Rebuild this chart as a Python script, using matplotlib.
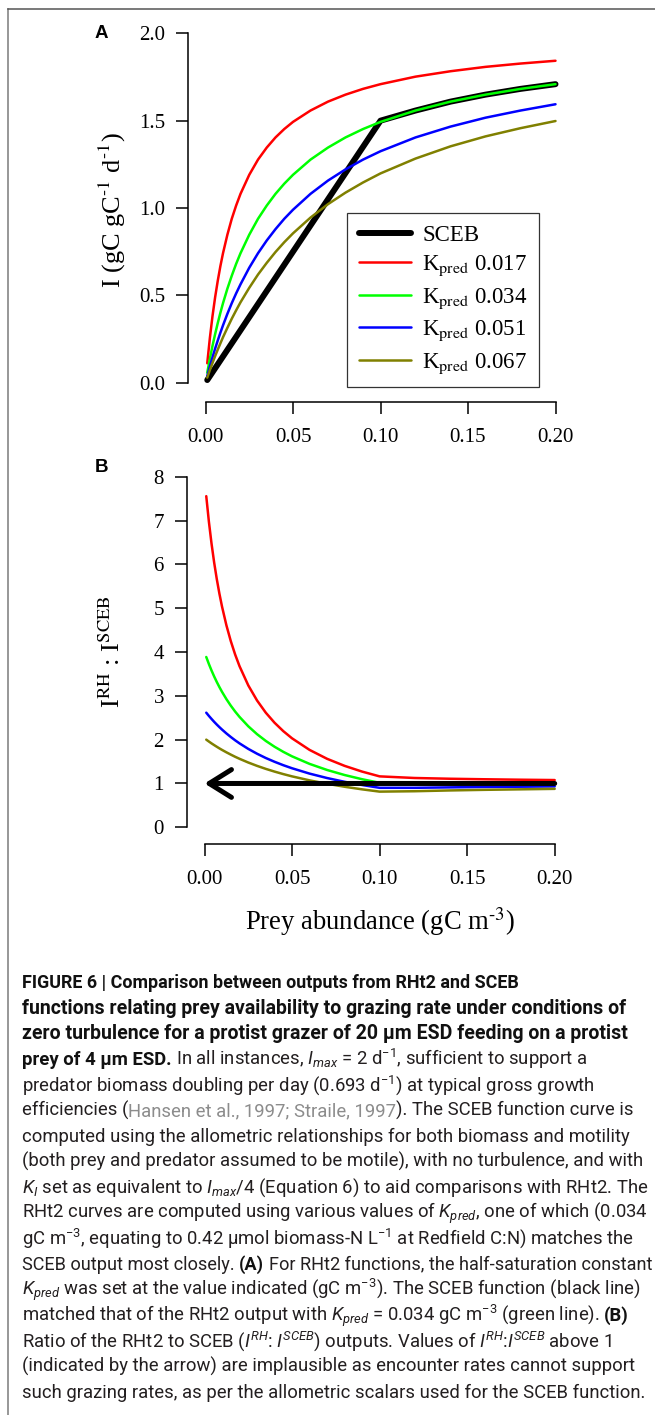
import matplotlib
matplotlib.use("Agg")
import matplotlib.pyplot as plt
from matplotlib.lines import Line2D

# --- data -----------------------------------------------------------------
prey = [0.001, 0.0025, 0.004, 0.0055, 0.007, 0.0085, 0.01, 0.0125, 0.015, 0.0175, 0.02,
        0.025, 0.03, 0.035, 0.04, 0.045, 0.05, 0.06, 0.07, 0.08, 0.09, 0.10,
        0.12, 0.14, 0.16, 0.18, 0.20]

k_pred = ["0.017", "0.034", "0.051", "0.067"]
k_colors = ["#FF0000", "#00FF00", "#0000FF", "#808000"]

rate_017 = [0.111, 0.256, 0.381, 0.489, 0.583, 0.667, 0.741, 0.847, 0.938, 1.014, 1.081,
            1.190, 1.277, 1.346, 1.404, 1.452, 1.493, 1.558, 1.609, 1.649, 1.682, 1.709,
            1.752, 1.783, 1.808, 1.827, 1.843]
rate_034 = [0.057, 0.137, 0.211, 0.278, 0.341, 0.400, 0.455, 0.538, 0.612, 0.680, 0.741,
            0.847, 0.938, 1.014, 1.081, 1.139, 1.190, 1.277, 1.346, 1.404, 1.452, 1.493,
            1.558, 1.609, 1.649, 1.682, 1.709]
rate_051 = [0.038, 0.093, 0.145, 0.195, 0.241, 0.286, 0.328, 0.394, 0.455, 0.511, 0.563,
            0.658, 0.741, 0.814, 0.879, 0.938, 0.990, 1.081, 1.157, 1.221, 1.277, 1.325,
            1.404, 1.466, 1.517, 1.558, 1.594]
rate_067 = [0.029, 0.072, 0.113, 0.152, 0.189, 0.225, 0.260, 0.314, 0.366, 0.414, 0.460,
            0.543, 0.619, 0.686, 0.748, 0.804, 0.855, 0.945, 1.022, 1.088, 1.146, 1.198,
            1.283, 1.353, 1.410, 1.457, 1.498]

sceb_prey = [0.001, 0.10, 0.12, 0.14, 0.16, 0.18, 0.20]
sceb_rate = [0.015, 1.500, 1.558, 1.609, 1.649, 1.682, 1.709]

ratio_017 = [7.556, 6.974, 6.476, 6.044, 5.667, 5.333, 5.037, 4.610, 4.250, 3.942, 3.676,
             3.238, 2.894, 2.615, 2.386, 2.194, 2.030, 1.766, 1.563, 1.402, 1.271, 1.162,
             1.125, 1.108, 1.096, 1.086, 1.078]
ratio_034 = [3.886, 3.726, 3.579, 3.443, 3.317, 3.200, 3.091, 2.925, 2.776, 2.641, 2.519,
             2.305, 2.125, 1.971, 1.838, 1.722, 1.619, 1.447, 1.308, 1.193, 1.097, 1.015,
             1.000, 1.000, 1.000, 1.000, 1.000]
ratio_051 = [2.615, 2.542, 2.473, 2.407, 2.345, 2.286, 2.230, 2.142, 2.061, 1.985, 1.915,
             1.789, 1.679, 1.581, 1.495, 1.417, 1.347, 1.225, 1.124, 1.038, 0.965, 0.901,
             0.901, 0.911, 0.920, 0.926, 0.933]
ratio_067 = [2.000, 1.957, 1.915, 1.876, 1.838, 1.801, 1.766, 1.711, 1.659, 1.609, 1.563,
             1.478, 1.402, 1.333, 1.271, 1.214, 1.162, 1.071, 0.993, 0.925, 0.866, 0.814,
             0.823, 0.841, 0.855, 0.866, 0.877]

# SCEB reference line in panel B (drawn as arrow from right to left)
sceb_ratio_prey = [0.20, 0.00]
sceb_ratio = [1.0, 1.0]

x_ticks = [0.00, 0.05, 0.10, 0.15, 0.20]
a_yticks = [0.0, 0.5, 1.0, 1.5, 2.0]
b_yticks = [0, 1, 2, 3, 4, 5, 6, 7, 8]

caption = [
    [("FIGURE 6 | Comparison between outputs from RHt2 and SCEB", "b")],
    [("functions relating prey availability to grazing rate under conditions of", "b")],
    [("zero turbulence for a protist grazer of 20 \u03bcm ESD feeding on a protist", "b")],
    [("prey of 4 \u03bcm ESD.", "b"), (" In all instances, $I_{max}$ = 2 d$^{-1}$, sufficient to support a", "r")],
    [("predator biomass doubling per day (0.693 d$^{-1}$) at typical gross growth", "r")],
    [("efficiencies (", "r"), ("Hansen et al., 1997; Straile, 1997", "c"), ("). The SCEB function curve is", "r")],
    [("computed using the allometric relationships for both biomass and motility", "r")],
    [("(both prey and predator assumed to be motile), with no turbulence, and with", "r")],
    [("$K_I$ set as equivalent to $I_{max}$/4 (Equation 6) to aid comparisons with RHt2. The", "r")],
    [("RHt2 curves are computed using various values of $K_{pred}$, one of which (0.034", "r")],
    [("gC m$^{-3}$, equating to 0.42 \u03bcmol biomass-N L$^{-1}$ at Redfield C:N) matches the", "r")],
    [("SCEB output most closely. ", "r"), ("(A)", "b"), (" For RHt2 functions, the half-saturation constant", "r")],
    [("$K_{pred}$ was set at the value indicated (gC m$^{-3}$). The SCEB function (black line)", "r")],
    [("matched that of the RHt2 output with $K_{pred}$ = 0.034 gC m$^{-3}$ (green line). ", "r"), ("(B)", "b")],
    [("Ratio of the RHt2 to SCEB ($I^{RH}$: $I^{SCEB}$) outputs. Values of $I^{RH}$:$I^{SCEB}$ above 1", "r")],
    [("(indicated by the arrow) are implausible as encounter rates cannot support", "r")],
    [("such grazing rates, as per the allometric scalars used for the SCEB function.", "r")],
]
# right edge wanted for the bold heading lines (px); other lines use the base size
caption_right = {0: 518, 1: 630, 2: 632}

# --- layout (pixels) --------------------------------------------------------
W, H = 655, 1415
CAP_FONT = "Roboto"
plt.rcParams['font.family'] = 'Liberation Serif'
plt.rcParams['mathtext.fontset'] = 'custom'
plt.rcParams['mathtext.rm'] = CAP_FONT
plt.rcParams['mathtext.it'] = CAP_FONT + ':italic'
plt.rcParams['mathtext.bf'] = CAP_FONT + ':bold'

fig = plt.figure(figsize=(W / 100, H / 100), dpi=100)


def fig_box(left, top, right, bottom):
    return [left / W, 1 - bottom / H, (right - left) / W, (bottom - top) / H]


def style_axis(ax, ymax, yticks, ylabels):
    for side in ("top", "right"):
        ax.spines[side].set_visible(False)
    ax.spines["left"].set_bounds(0, ymax)
    ax.spines["bottom"].set_bounds(0, 0.2)
    for side in ("left", "bottom"):
        ax.spines[side].set_linewidth(1.1)
    ax.set_xticks(x_ticks)
    ax.set_xticklabels([f"{t:.2f}" for t in x_ticks])
    ax.set_yticks(yticks)
    ax.set_yticklabels(ylabels)
    ax.tick_params(length=8.6, width=1.1, labelsize=15, direction="out")
    ax.tick_params(axis="x", pad=10)
    ax.tick_params(axis="y", pad=8)
    ax.patch.set_visible(False)


# panel A
ax_a = fig.add_axes(fig_box(188, 14.3, 573, 401.7))
ax_a.set_xlim(-0.01, 0.21)
ax_a.set_ylim(-0.109, 2.109)
rates = [rate_017, rate_034, rate_051, rate_067]
handles = []
h, = ax_a.plot(sceb_prey, sceb_rate, color="black", lw=4.3, solid_capstyle="round")
handles.append(h)
for r, c in zip(rates, k_colors):
    h, = ax_a.plot(prey, r, color=c, lw=1.8, solid_capstyle="round")
    handles.append(h)
style_axis(ax_a, 2.0, a_yticks, [f"{t:.1f}" for t in a_yticks])

labels = ["SCEB"] + [r"K$_{\mathrm{pred}}$ " + k for k in k_pred]
leg = ax_a.legend(handles, labels, loc="upper left",
                  bbox_to_anchor=(347.3 / W, 1 - 213.3 / H), bbox_transform=fig.transFigure,
                  borderaxespad=0, fancybox=False, framealpha=1, edgecolor="#333333",
                  fontsize=16.5, handlelength=2.27, handletextpad=0.5, borderpad=0.5,
                  labelspacing=0.35)
leg.get_frame().set_linewidth(0.9)
for t in leg.get_texts():
    t.set_math_fontfamily("stix")

# panel B
ax_b = fig.add_axes(fig_box(187, 459.7, 572.2, 844.3))
ax_b.set_xlim(-0.01, 0.21)
ax_b.set_ylim(-0.388, 8.388)
ratios = [ratio_017, ratio_034, ratio_051, ratio_067]
for r, c in zip(ratios, k_colors):
    ax_b.plot(prey, r, color=c, lw=1.8, solid_capstyle="round")
ax_b.annotate("", xy=(sceb_ratio_prey[1], sceb_ratio[1]), xytext=(sceb_ratio_prey[0], sceb_ratio[0]),
              arrowprops=dict(arrowstyle="->,head_length=0.8,head_width=0.5", lw=3.6,
                              color="black", mutation_scale=20, shrinkA=0, shrinkB=0,
                              capstyle="round", joinstyle="round"), zorder=5)
style_axis(ax_b, 8, b_yticks, [str(t) for t in b_yticks])

# axis titles
fig.text(112 / W, 1 - 210 / H, r"I (gC gC$^{\text{-1}}$ d$^{\text{-1}}$)", rotation=90,
         ha="center", va="center", fontsize=19, math_fontfamily="stix")
fig.text(112 / W, 1 - 652 / H, r"I$^{\mathrm{RH}}$ : I$^{\mathrm{SCEB}}$", rotation=90,
         ha="center", va="center", fontsize=19, math_fontfamily="stix")
fig.text(380 / W, 1 - 922 / H, r"Prey abundance (gC m$^{\text{-3}}$)", ha="center",
         va="center", fontsize=19.2, math_fontfamily="stix")

for letter, y in (("A", 33), ("B", 467)):
    fig.text(101 / W, 1 - y / H, letter, ha="center", va="center", fontsize=13.5,
             fontweight="bold", family="Liberation Sans")

# page frame
fig.add_artist(Line2D([7.5 / W, 7.5 / W], [0, 1 - 9 / H], transform=fig.transFigure,
                      color="#7a7a7a", lw=1.1))
fig.add_artist(Line2D([7.5 / W, 1], [1 - 9 / H, 1 - 9 / H], transform=fig.transFigure,
                      color="#555555", lw=1.1))

# --- caption -----------------------------------------------------------------
renderer = fig.canvas.get_renderer()
BASE = 13.3
MAX_RIGHT = 650


def cap_style(st, size):
    kw = dict(family=CAP_FONT, fontsize=size, color="#231f20")
    if st == "b":
        kw.update(color="#111111", fontweight="bold")
    elif st == "c":
        kw.update(color="#8c8c8c")
    return kw


def advance(s, kw):
    t = fig.text(0, 0, "|" + s + "|", **kw)
    w = t.get_window_extent(renderer).width
    t.remove()
    t = fig.text(0, 0, "||", **kw)
    w -= t.get_window_extent(renderer).width
    t.remove()
    return w


def draw_line(segs, x0, y, size, draw=True):
    pen = x0
    for s, st in segs:
        kw = cap_style(st, size)
        core = s.strip(" ")
        lead = len(s) - len(s.lstrip(" "))
        trail = len(s) - len(s.rstrip(" "))
        if lead:
            pen += advance(" " * lead, kw)
        if draw:
            fig.text(pen / W, 1 - y / H, core, ha="left", va="baseline", **kw)
        pen += advance(core, kw)
        if trail and draw:
            pen += advance(" " * trail, kw)
    return pen - x0


cap_left, cap_base, cap_step = 22, 988, 25.6
for i, segs in enumerate(caption):
    y = cap_base + i * cap_step
    natural = draw_line(segs, cap_left, y, BASE, draw=False)
    if i in caption_right:
        size = BASE * (caption_right[i] - cap_left) / natural
    else:
        size = min(BASE, BASE * (MAX_RIGHT - cap_left) / natural)
    draw_line(segs, cap_left, y, size)

fig.savefig("out.png", dpi=100)
